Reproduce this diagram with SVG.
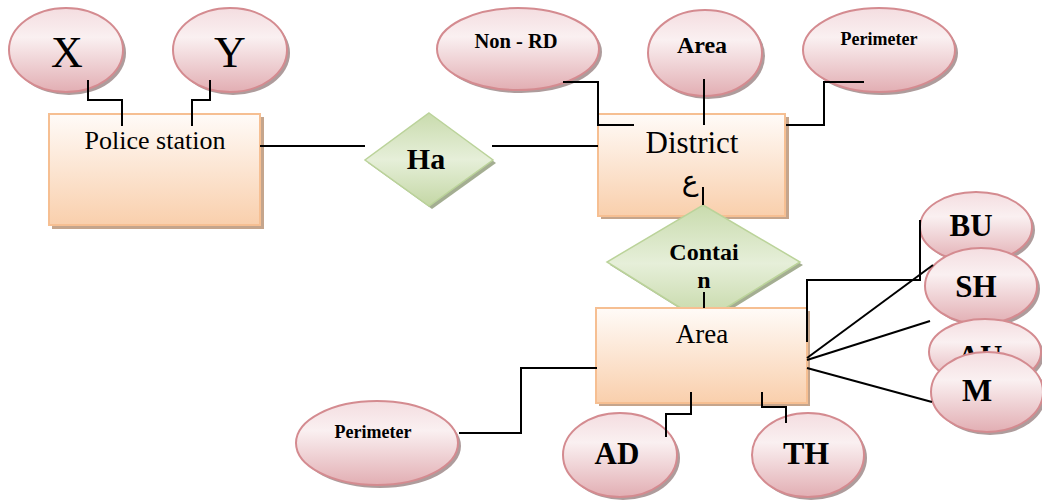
<svg xmlns="http://www.w3.org/2000/svg" width="1042" height="500" viewBox="0 0 1042 500">
<defs>
<linearGradient id="gEll" x1="0" y1="0" x2="0" y2="1">
<stop offset="0" stop-color="#F4DDE0"/>
<stop offset="0.35" stop-color="#FAF0F1"/>
<stop offset="1" stop-color="#E2AEB3"/>
</linearGradient>
<linearGradient id="gRect" x1="0" y1="0" x2="0" y2="1">
<stop offset="0" stop-color="#FFFBF8"/>
<stop offset="1" stop-color="#F9CFAC"/>
</linearGradient>
<linearGradient id="gDia" x1="0" y1="0" x2="0" y2="1">
<stop offset="0" stop-color="#C9DBAD"/>
<stop offset="0.5" stop-color="#E6EFD9"/>
<stop offset="1" stop-color="#C4D7A5"/>
</linearGradient>
<style>
.ell{fill:url(#gEll);stroke:#D48B90;stroke-width:2}
.esh{fill:#AE9C9C}
.rect{fill:url(#gRect);stroke:#F6BF92;stroke-width:2}
.rsh{fill:#C5A58C}
.dia{fill:url(#gDia);stroke:#BBD39A;stroke-width:1.5}
.dsh{fill:#A4AE92}
.t{font-family:"Liberation Serif","Times New Roman","DejaVu Serif","DejaVu Sans",serif;text-anchor:middle;fill:#000}
.b{font-weight:bold}
.ln{fill:none;stroke:#000;stroke-width:2}
</style>
</defs>

<g id="police-station">
<rect class="rsh" x="52" y="117" width="212" height="112"/>
<rect class="rect" x="49" y="114" width="211" height="111"/>
<text class="t" x="155" y="149" font-size="26">Police station</text>
</g>
<g id="attr-x">
<ellipse class="esh" cx="69" cy="53" rx="57" ry="42"/>
<ellipse class="ell" cx="66" cy="50" rx="57" ry="42"/>
<text class="t" x="67" y="67" font-size="44">X</text>
</g>
<g id="attr-y">
<ellipse class="esh" cx="233" cy="53" rx="57" ry="42"/>
<ellipse class="ell" cx="230" cy="50" rx="57" ry="42"/>
<text class="t" x="230" y="67" font-size="44">Y</text>
</g>

<g id="rel-ha">
<polygon class="dsh" points="432,116 496,163 432,209 368,163"/>
<polygon class="dia" points="429,113 493,160 429,206 365,160"/>
<text class="t b" x="426" y="169" font-size="30">Ha</text>
</g>

<g id="district">
<rect class="rsh" x="601" y="117" width="188" height="102"/>
<rect class="rect" x="598" y="114" width="187" height="102"/>
<text class="t" x="692" y="153" font-size="31">District</text>
<text class="t" x="690" y="190" font-size="28">ع</text>
</g>
<g id="attr-nonrd">
<ellipse class="esh" cx="521" cy="52" rx="81" ry="41"/>
<ellipse class="ell" cx="518" cy="49" rx="81" ry="41"/>
<text class="t b" x="516" y="48" font-size="20.5">Non - RD</text>
</g>
<g id="attr-area-top">
<ellipse class="esh" cx="708" cy="56" rx="57" ry="43"/>
<ellipse class="ell" cx="705" cy="53" rx="57" ry="43"/>
<text class="t b" x="702" y="53" font-size="24">Area</text>
</g>
<g id="attr-perimeter-top">
<ellipse class="esh" cx="882" cy="53" rx="76" ry="42"/>
<ellipse class="ell" cx="879" cy="50" rx="76" ry="42"/>
<text class="t b" x="879" y="45" font-size="18">Perimeter</text>
</g>

<g id="rel-contain">
<polygon class="dsh" points="706,208 803,265 706,325 610,265"/>
<polygon class="dia" points="703,205 800,262 703,322 607,262"/>
<text class="t b" x="704" y="260" font-size="24">Contai</text>
<text class="t b" x="704" y="288" font-size="24">n</text>
</g>

<g id="area">
<rect class="rsh" x="599" y="311" width="211" height="95"/>
<rect class="rect" x="596" y="308" width="211" height="95"/>
<text class="t" x="702" y="343" font-size="27">Area</text>
</g>
<g id="attr-perimeter-bottom">
<ellipse class="esh" cx="380" cy="446" rx="81" ry="42"/>
<ellipse class="ell" cx="377" cy="443" rx="81" ry="42"/>
<text class="t b" x="373" y="438" font-size="18">Perimeter</text>
</g>
<g id="attr-ad">
<ellipse class="esh" cx="623" cy="458" rx="57" ry="42"/>
<ellipse class="ell" cx="620" cy="455" rx="57" ry="42"/>
<text class="t b" x="617" y="464" font-size="31">AD</text>
</g>
<g id="attr-th">
<ellipse class="esh" cx="811" cy="458" rx="56" ry="42"/>
<ellipse class="ell" cx="808" cy="455" rx="56" ry="42"/>
<text class="t b" x="806" y="464" font-size="32">TH</text>
</g>
<g id="attr-bu">
<ellipse class="esh" cx="979" cy="230" rx="56" ry="35"/>
<ellipse class="ell" cx="976" cy="227" rx="56" ry="35"/>
<text class="t b" x="971" y="236" font-size="31">BU</text>
</g>
<g id="attr-sh">
<ellipse class="esh" cx="984" cy="289" rx="56" ry="38"/>
<ellipse class="ell" cx="981" cy="286" rx="56" ry="38"/>
<text class="t b" x="976" y="297" font-size="31">SH</text>
</g>
<g id="attr-au">
<ellipse class="esh" cx="988" cy="355" rx="56" ry="33"/>
<ellipse class="ell" cx="985" cy="352" rx="56" ry="33"/>
<text class="t b" x="980" y="367" font-size="31">AU</text>
</g>
<g id="attr-m">
<ellipse class="esh" cx="990" cy="395" rx="56" ry="40"/>
<ellipse class="ell" cx="987" cy="392" rx="56" ry="40"/>
<text class="t b" x="977" y="401" font-size="32">M</text>
</g>

<g id="connectors">
<polyline class="ln" points="88,80 88,100 122,100 122,126"/>
<polyline class="ln" points="210,80 210,100 192,100 192,126"/>
<line class="ln" x1="260" y1="146" x2="365" y2="146"/>
<line class="ln" x1="492" y1="146" x2="598" y2="146"/>
<polyline class="ln" points="563,82 598,82 598,125 634,125"/>
<line class="ln" x1="704" y1="79" x2="704" y2="125"/>
<polyline class="ln" points="864,82 824,82 824,125 786,125"/>
<line class="ln" x1="703" y1="187" x2="703" y2="205"/>
<line class="ln" x1="704" y1="292" x2="704" y2="308"/>
<polyline class="ln" points="597,368 521,368 521,433 459,433"/>
<polyline class="ln" points="691,392 691,414 666,414 666,437"/>
<polyline class="ln" points="762,392 762,407 786,407 786,423"/>
<polyline class="ln" points="807,342 807,280 920,280 920,220"/>
<line class="ln" x1="807" y1="358" x2="933" y2="265"/>
<line class="ln" x1="807" y1="360" x2="930" y2="321"/>
<line class="ln" x1="807" y1="368" x2="932" y2="402"/>
</g>
</svg>
